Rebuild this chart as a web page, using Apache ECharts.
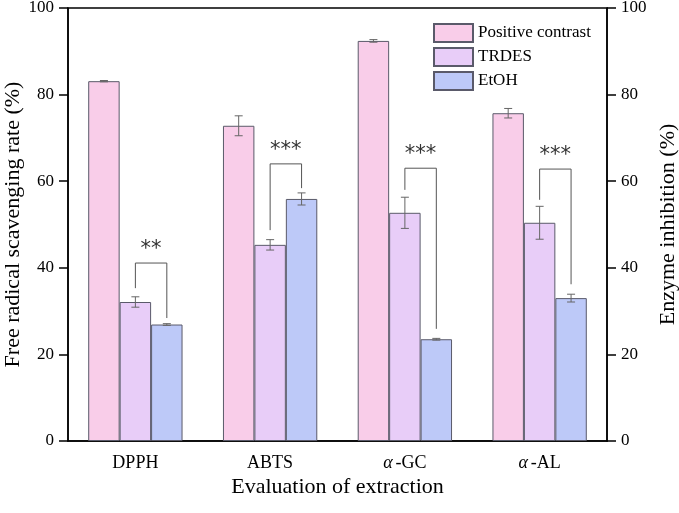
<!DOCTYPE html>
<html>
<head>
<meta charset="utf-8">
<script src="https://cdn.jsdelivr.net/npm/echarts@6/dist/echarts.min.js"></script>
<style>
	html, body { margin: 0; padding: 0; background: #fff; }
	#main { width: 679px; height: 513px; }
</style>
</head>
<body>
<div id="main"></div>
<script>
// categories and values
var categories = ['DPPH', 'ABTS', 'α-GC', 'α-AL'];
var positive = [83.1, 72.8, 92.4, 75.7];
var positiveErr = [0.15, 2.3, 0.3, 1.1];
var trdes = [32.1, 45.3, 52.7, 50.4];
var trdesErr = [1.2, 1.2, 3.6, 3.8];
var etoh = [26.9, 55.9, 23.5, 33.0];
var etohErr = [0.2, 1.4, 0.2, 0.9];

// significance brackets: top, left leg end, right leg end
var sigTop = [41.1, 64.0, 63.0, 62.8];
var sigLeft = [35.3, 48.7, 58.0, 55.7];
var sigRight = [28.4, 58.4, 25.9, 36.2];
var sigMark = ['**', '***', '***', '***'];

var FONT = 'Liberation Serif';
var GAP = 0.3; // barCategoryGap

var chart = echarts.init(document.getElementById('main'));

// error bar data: [category, series index, low, high]
var errData = [];
[[positive, positiveErr], [trdes, trdesErr], [etoh, etohErr]].forEach(function (pair, s) {
	pair[0].forEach(function (v, i) {
		errData.push([i, s, v - pair[1][i], v + pair[1][i]]);
	});
});

var sigData = sigTop.map(function (t, i) {
	return [i, t, sigLeft[i], sigRight[i]];
});

function barOffset(api, s) {
	var band = api.size([1, 0])[0];
	var w = band * (1 - GAP) / 3;
	return (s - 1) * w;
}

var barStyle = function (color) {
	return { color: color, borderColor: '#5a5a6a', borderWidth: 1 };
};

var option = {
	animation: false,
	grid: {
		left: 68, right: 72, top: 8, bottom: 72,
		containLabel: false,
		outerBoundsMode: 'none',
		show: true, borderColor: '#000', borderWidth: 1.5
	},
	legend: {
		data: ['Positive contrast', 'TRDES', 'EtOH'],
		orient: 'vertical',
		left: 428, top: 18,
		icon: 'rect',
		itemWidth: 39, itemHeight: 18, itemGap: 4,
		textStyle: { fontFamily: FONT, fontSize: 17, color: '#000' }
	},
	xAxis: {
		type: 'category',
		data: categories,
		name: 'Evaluation of extraction',
		nameLocation: 'middle',
		nameGap: 35,
		nameMoveOverlap: false,
		nameTextStyle: { fontFamily: FONT, fontSize: 22, color: '#000' },
		axisLine: { lineStyle: { color: '#000', width: 1.5 } },
		axisTick: { alignWithLabel: true, length: 7, lineStyle: { color: '#000', width: 1.5 } },
		axisLabel: {
			margin: 13,
			fontFamily: FONT, fontSize: 18, color: '#000',
			formatter: function (v) {
				return v.charAt(0) === 'α' ? '{a|α}' + v.slice(1) : v;
			},
			rich: {
				a: { fontFamily: FONT, fontSize: 18, fontStyle: 'italic', color: '#000', padding: [0, 3, 0, 0] }
			}
		}
	},
	yAxis: [{
		type: 'value',
		min: 0, max: 100, interval: 20,
		name: 'Free radical scavenging rate (%)',
		nameLocation: 'middle',
		nameRotate: 90,
		nameGap: 44,
		nameMoveOverlap: false,
		nameTextStyle: { fontFamily: FONT, fontSize: 22, color: '#000' },
		axisLine: { show: true, lineStyle: { color: '#000', width: 1.5 } },
		axisTick: { show: true, length: 9, lineStyle: { color: '#000', width: 1.5 } },
		axisLabel: { margin: 14, fontFamily: FONT, fontSize: 17, color: '#000' },
		splitLine: { show: false }
	}, {
		type: 'value',
		position: 'right',
		min: 0, max: 100, interval: 20,
		name: 'Enzyme inhibition (%)',
		nameLocation: 'middle',
		nameRotate: 90,
		nameGap: 50,
		nameMoveOverlap: false,
		nameTextStyle: { fontFamily: FONT, fontSize: 22, color: '#000' },
		axisLine: { show: true, lineStyle: { color: '#000', width: 1.5 } },
		axisTick: { show: true, length: 9, lineStyle: { color: '#000', width: 1.5 } },
		axisLabel: { margin: 14, fontFamily: FONT, fontSize: 17, color: '#000' },
		splitLine: { show: false }
	}],
	series: [{
		name: 'Positive contrast',
		type: 'bar',
		barGap: 0,
		barCategoryGap: (GAP * 100) + '%',
		itemStyle: barStyle('#f9cde9'),
		data: positive
	}, {
		name: 'TRDES',
		type: 'bar',
		barGap: 0,
		barCategoryGap: (GAP * 100) + '%',
		itemStyle: barStyle('#e8cdf8'),
		data: trdes
	}, {
		name: 'EtOH',
		type: 'bar',
		barGap: 0,
		barCategoryGap: (GAP * 100) + '%',
		itemStyle: barStyle('#bdc9f8'),
		data: etoh
	}, {
		// error bars
		type: 'custom',
		z: 5,
		silent: true,
		renderItem: function (params, api) {
			var off = barOffset(api, api.value(1));
			var lo = api.coord([api.value(0), api.value(2)]);
			var hi = api.coord([api.value(0), api.value(3)]);
			var x = lo[0] + off;
			var cap = 4;
			var st = { stroke: '#666', lineWidth: 1, fill: null };
			return {
				type: 'group',
				children: [
					{ type: 'line', shape: { x1: x, y1: lo[1], x2: x, y2: hi[1] }, style: st },
					{ type: 'line', shape: { x1: x - cap, y1: lo[1], x2: x + cap, y2: lo[1] }, style: st },
					{ type: 'line', shape: { x1: x - cap, y1: hi[1], x2: x + cap, y2: hi[1] }, style: st }
				]
			};
		},
		data: errData
	}, {
		// significance brackets
		type: 'custom',
		z: 5,
		silent: true,
		renderItem: function (params, api) {
			var i = api.value(0);
			var top = api.coord([i, api.value(1)]);
			var l = api.coord([i, api.value(2)]);
			var r = api.coord([i, api.value(3)]);
			var xl = top[0] + barOffset(api, 1);
			var xr = top[0] + barOffset(api, 2);
			return {
				type: 'group',
				children: [{
					type: 'polyline',
					shape: { points: [[xl, l[1]], [xl, top[1]], [xr, top[1]], [xr, r[1]]] },
					style: { stroke: '#555', lineWidth: 1, fill: null }
				}, {
					type: 'text',
					style: {
						text: sigMark[params.dataIndex],
						x: (xl + xr) / 2,
						y: top[1] - 3,
						align: 'center',
						verticalAlign: 'bottom',
						fontFamily: 'DejaVu Sans',
						fontSize: 21,
						fill: '#333'
					}
				}]
			};
		},
		data: sigData
	}]
};

chart.setOption(option);
window.onresize = function () {
	chart.resize();
};
</script>
</body>
</html>
